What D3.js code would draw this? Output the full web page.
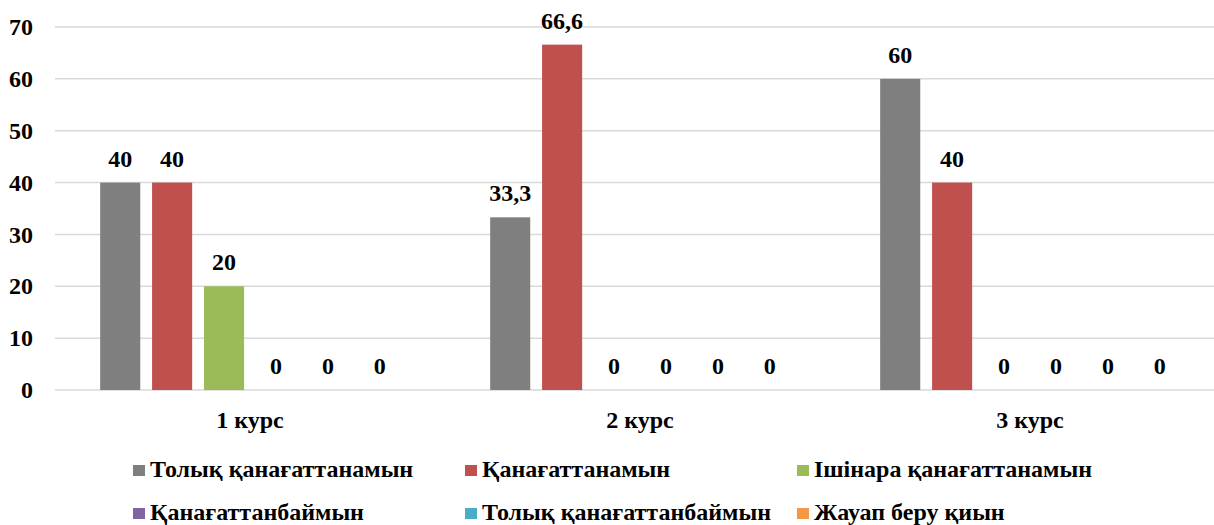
<!DOCTYPE html>
<html>
<head>
<meta charset="utf-8">
<script src="https://cdn.jsdelivr.net/npm/d3@7"></script>
<style>
  body { margin: 0; background: #fff; }
</style>
</head>
<body>
<div id="chart"></div>
<script>

// data
var courses = ["1 курс", "2 курс", "3 курс"];
var seriesNames = ["Толық қанағаттанамын", "Қанағаттанамын", "Ішінара қанағаттанамын",
                   "Қанағаттанбаймын", "Толық қанағаттанбаймын", "Жауап беру қиын"];
var seriesColors = ["#7f7f7f", "#c0504d", "#9bbb59", "#8064a2", "#4bacc6", "#f79646"];
var values = [
  [40, 40, 20, 0, 0, 0],
  [33.3, 66.6, 0, 0, 0, 0],
  [60, 40, 0, 0, 0, 0]
];
var yTicks = [0, 10, 20, 30, 40, 50, 60, 70];

var width = 1214, height = 525;
var fontFam = "Liberation Serif";

var svg = d3.select("#chart")
  .append("svg")
    .attr("width", width)
    .attr("height", height);

// scales
var x0 = d3.scaleBand()
  .domain(courses)
  .range([55, 1225]);

var x1 = d3.scaleBand()
  .domain(d3.range(seriesNames.length))
  .range([0, x0.bandwidth()])
  .paddingInner(0.228)
  .paddingOuter(0.87);

var y = d3.scaleLinear()
  .domain([0, 70])
  .range([390, 27]);

// gridlines
svg.append("g")
  .selectAll("line")
  .data(yTicks)
  .enter()
  .append("line")
    .attr("x1", 55)
    .attr("x2", width)
    .attr("y1", function(d) { return y(d) })
    .attr("y2", function(d) { return y(d) })
    .attr("stroke", "#d9d9d9")
    .attr("stroke-width", 1.5);

// y axis labels
var yAxis = svg.append("g")
  .attr("transform", "translate(33,0)")
  .call(d3.axisLeft(y).tickValues(yTicks).tickSize(0).tickPadding(0));
yAxis.select(".domain").remove();
yAxis.attr("font-family", fontFam).attr("font-size", 24).attr("font-weight", "bold");
yAxis.selectAll("text").attr("fill", "#000");

// x axis labels
var xAxis = svg.append("g")
  .attr("transform", "translate(0,390)")
  .call(d3.axisBottom(x0).tickSize(0).tickPadding(21));
xAxis.select(".domain").remove();
xAxis.attr("font-family", fontFam).attr("font-size", 24).attr("font-weight", "bold");
xAxis.selectAll("text").attr("fill", "#000");

// bars
var groups = svg.selectAll(".grp")
  .data(courses)
  .enter()
  .append("g")
    .attr("class", "grp")
    .attr("transform", function(d) { return "translate(" + x0(d) + ",0)" });

groups.selectAll("rect")
  .data(function(d, i) { return values[i] })
  .enter()
  .append("rect")
    .attr("x", function(d, j) { return x1(j) })
    .attr("y", function(d) { return y(d) })
    .attr("width", x1.bandwidth())
    .attr("height", function(d) { return y(0) - y(d) })
    .attr("fill", function(d, j) { return seriesColors[j] });

groups.selectAll(".lbl")
  .data(function(d, i) { return values[i] })
  .enter()
  .append("text")
    .attr("class", "lbl")
    .attr("x", function(d, j) { return x1(j) + x1.bandwidth() / 2 })
    .attr("y", function(d) { return y(d) - 16 })
    .attr("text-anchor", "middle")
    .attr("font-family", fontFam)
    .attr("font-weight", "bold")
    .attr("font-size", 24)
    .text(function(d) { return String(d).replace(".", ",") });

// legend
var legendX = [133, 465, 797];
var legendY = [477, 520];
var legend = svg.selectAll(".leg")
  .data(seriesNames)
  .enter()
  .append("g")
    .attr("class", "leg")
    .attr("transform", function(d, i) {
      return "translate(" + legendX[i % 3] + "," + legendY[Math.floor(i / 3)] + ")";
    });

legend.append("rect")
  .attr("x", 0)
  .attr("y", -12)
  .attr("width", 12)
  .attr("height", 11)
  .attr("fill", function(d, i) { return seriesColors[i] });

legend.append("text")
  .attr("x", 17)
  .attr("y", 0)
  .attr("font-family", fontFam)
  .attr("font-weight", "bold")
  .attr("font-size", 24)
  .text(function(d) { return d });

</script>
</body>
</html>
